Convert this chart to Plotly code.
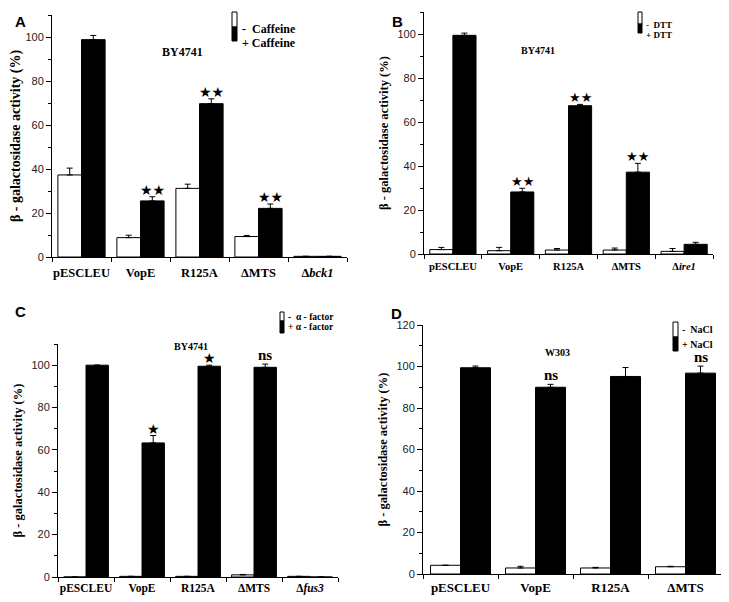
import plotly.graph_objects as go

W, H = 729, 602
PAD = 8  # default page margin around the plot div

# ---- data ----
cats_a = ["pESCLEU", "VopE", "R125A", "ΔMTS", "Δbck1"]
ticks_a = ["pESCLEU", "VopE", "R125A", "ΔMTS", "Δ<i>bck1</i>"]
minus_a = [37.3, 8.8, 31.2, 9.3, 0.3]
minus_err_a = [3.1, 1.1, 1.9, 0.5, 0.0]
plus_a = [98.8, 25.5, 69.7, 22.1, 0.3]
plus_err_a = [1.9, 1.9, 2.2, 2.0, 0.0]
sig_a = ["", "★★", "★★", "★★", ""]

cats_b = ["pESCLEU", "VopE", "R125A", "ΔMTS", "Δire1"]
ticks_b = ["pESCLEU", "VopE", "R125A", "ΔMTS", "Δ<i>ire1</i>"]
minus_b = [2.0, 1.5, 1.8, 1.8, 1.2]
minus_err_b = [1.0, 1.5, 0.7, 0.9, 1.3]
plus_b = [99.4, 28.2, 67.4, 37.2, 4.4]
plus_err_b = [1.0, 1.7, 0.6, 4.0, 0.9]
sig_b = ["", "★★", "★★", "★★", ""]

cats_c = ["pESCLEU", "VopE", "R125A", "ΔMTS", "Δfus3"]
ticks_c = ["pESCLEU", "VopE", "R125A", "ΔMTS", "Δ<i>fus3</i>"]
minus_c = [0.0, 0.3, 0.3, 1.0, 0.3]
minus_err_c = [0.0, 0.0, 0.0, 0.2, 0.0]
plus_c = [100.0, 63.3, 99.5, 99.0, 0.0]
plus_err_c = [0.0, 3.5, 0.5, 1.5, 0.0]
sig_c = ["", "★", "★", "ns", ""]

cats_d = ["pESCLEU", "VopE", "R125A", "ΔMTS"]
ticks_d = ["pESCLEU", "VopE", "R125A", "ΔMTS"]
minus_d = [4.2, 2.9, 2.9, 3.5]
minus_err_d = [0.0, 0.8, 0.3, 0.2]
plus_d = [99.4, 90.0, 95.2, 96.8]
plus_err_d = [0.8, 1.4, 4.3, 3.4]
sig_d = ["", "ns", "", "ns"]

SERIF = "Liberation Serif"
SANS = "Liberation Sans"
YTITLE = "β - galactosidase activity (%)"

FW, FH = W - PAD, H - PAD


def px(x, y):
    # page pixel -> paper fraction of the (offset) plot div
    return (x - PAD) / FW, 1 - (y - PAD) / FH


fig = go.Figure()

panels = [
    # name, cats, ticks, minus, minus_err, plus, plus_err, sig, box(px), ymax,
    # xtick font, title font, star size, label standoff
    ("A", cats_a, ticks_a, minus_a, minus_err_a, plus_a, plus_err_a, sig_a, (52, 15, 347, 257), 110, 12.5, 14, 14, 4),
    ("B", cats_b, ticks_b, minus_b, minus_err_b, plus_b, plus_err_b, sig_b, (424, 12, 713, 254), 110, 10.5, 12.5, 13, 2),
    ("C", cats_c, ticks_c, minus_c, minus_err_c, plus_c, plus_err_c, sig_c, (58, 344, 338, 577), 110, 11.5, 12.5, 14, 0),
    ("D", cats_d, ticks_d, minus_d, minus_err_d, plus_d, plus_err_d, sig_d, (423, 325, 723, 574), 120, 13, 12.5, 14, 1),
]

annotations = []
shapes = []
for i, (name, cats, ticks, mn, mn_err, pl, pl_err, sig, box, ymax, xfs, tfs, sfs, tso) in enumerate(panels):
    n = i + 1
    xa = "x" if n == 1 else f"x{n}"
    ya = "y" if n == 1 else f"y{n}"
    x0, y0 = px(box[0], box[3])
    x1, y1 = px(box[2], box[1])

    fig.add_trace(go.Bar(
        x=cats, y=mn, xaxis=xa, yaxis=ya, showlegend=False,
        marker=dict(color="white", line=dict(color="black", width=1)),
        error_y=dict(type="data", array=mn_err, arrayminus=[0] * len(cats),
                     symmetric=False, color="black", thickness=1, width=3),
    ))
    fig.add_trace(go.Bar(
        x=cats, y=pl, xaxis=xa, yaxis=ya, showlegend=False,
        marker=dict(color="black", line=dict(color="black", width=1)),
        error_y=dict(type="data", array=pl_err, arrayminus=[0] * len(cats),
                     symmetric=False, color="black", thickness=1, width=3),
    ))

    cat_px = (box[2] - box[0]) / len(cats)
    for c, v, e, s in zip(cats, pl, pl_err, sig):
        if not s:
            continue
        star = s.startswith("★")
        annotations.append(dict(
            x=c, y=v + e, xref=xa, yref=ya, text=s, showarrow=False,
            xshift=cat_px * 0.2, yanchor="bottom", yshift=-3 if star else -1,
            font=dict(family="DejaVu Sans" if star else SERIF,
                      size=sfs if star else 15, color="black", weight="bold"),
        ))

    axis_x = dict(
        domain=[x0, x1], anchor=ya, categoryarray=cats, categoryorder="array",
        tickmode="array", tickvals=cats, ticktext=ticks, tickangle=0, automargin=False,
        ticklabelstandoff=tso,
        showline=True, linecolor="black", linewidth=1,
        ticks="outside", tickson="boundaries", ticklen=4, tickcolor="black",
        tickfont=dict(family=SERIF, size=xfs, color="black", weight="bold"),
        showgrid=False, zeroline=False,
    )
    axis_y = dict(
        domain=[y0, y1], anchor=xa, range=[0, ymax], dtick=20, automargin=False,
        showline=True, linecolor="black", linewidth=1,
        ticks="outside", ticklen=5, tickcolor="black",
        minor=dict(dtick=10, ticks="outside", ticklen=3, tickcolor="black"),
        tickfont=dict(family=SANS, size=11, color="#222"),
        title=dict(text=YTITLE, standoff=6,
                   font=dict(family=SERIF, size=tfs, color="black", weight="bold")),
        showgrid=False, zeroline=False,
    )
    key = "" if n == 1 else str(n)
    fig.update_layout(**{f"xaxis{key}": axis_x, f"yaxis{key}": axis_y})

# panel letters
for letter, (lx, ly) in zip(["A", "B", "C", "D"], [(13, 11), (397, 11), (13, 311), (396, 313)]):
    xx, yy = px(lx, ly)
    annotations.append(dict(x=xx, y=yy, xref="paper", yref="paper", text=letter,
                            showarrow=False, font=dict(family=SANS, size=15, color="black", weight="bold")))

# strain labels
for txt, (lx, ly), fs in [("BY4741", (160, 43), 12), ("BY4741", (557, 43), 10),
                          ("BY4741", (172, 346), 10), ("W303", (572, 352), 10)]:
    xx, yy = px(lx, ly)
    annotations.append(dict(x=xx, y=yy, xref="paper", yref="paper", text=txt,
                            showarrow=False, font=dict(family=SERIF, size=fs, color="black", weight="bold")))

# hand-drawn legends: (box x, white top, split, bottom, box width, text x, label, font size)
legends = [
    (232, 12, 27, 41, 5, 240, "Caffeine", 12),
    (638, 12, 24, 33, 4, 644, "DTT", 9),
    (280, 312, 321, 333, 4, 286, "α - factor", 9.5),
    (673, 322, 337, 351, 5, 680, "NaCl", 10),
]
for bx, top, mid, bot, bw, tx, lab, fs in legends:
    for (ya0, ya1, col, sign) in [(top, mid, "white", "-  "), (mid, bot, "black", "+ ")]:
        ax0, ay0 = px(bx, ya1)
        ax1, ay1 = px(bx + bw, ya0)
        shapes.append(dict(type="rect", xref="paper", yref="paper", x0=ax0, x1=ax1, y0=ay0, y1=ay1,
                           fillcolor=col, line=dict(color="black", width=1)))
        tx_, ty_ = px(tx, (ya0 + ya1) / 2)
        annotations.append(dict(x=tx_, y=ty_, xref="paper", yref="paper", text=sign + lab,
                                showarrow=False, xanchor="left",
                                font=dict(family=SERIF, size=fs, color="black", weight="bold")))

fig.update_layout(
    width=FW, height=FH, margin=dict(l=0, r=0, t=0, b=0),
    paper_bgcolor="white", plot_bgcolor="white",
    barmode="group", bargap=0.2, bargroupgap=0.0,
    annotations=annotations, shapes=shapes,
)

fig.write_html("out.html")
